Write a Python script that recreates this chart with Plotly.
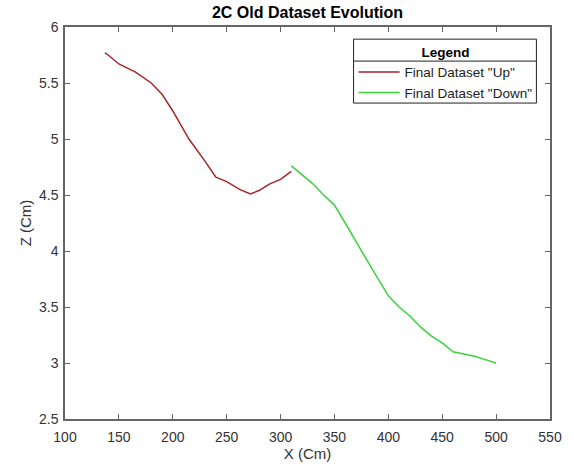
import plotly.graph_objects as go

# Data
up_x = [137, 140, 150, 165, 180, 190, 200, 215, 230, 240, 250, 262, 272, 280, 290, 300, 310]
up_z = [5.77, 5.75, 5.67, 5.60, 5.50, 5.40, 5.25, 5.00, 4.80, 4.66, 4.62, 4.55, 4.51, 4.54, 4.60, 4.64, 4.71]

down_x = [310, 320, 330, 340, 350, 360, 370, 380, 390, 400, 410, 420, 430, 440, 450, 460, 470, 480, 490, 500]
down_z = [4.76, 4.68, 4.60, 4.50, 4.41, 4.25, 4.08, 3.92, 3.76, 3.60, 3.50, 3.42, 3.32, 3.24, 3.18, 3.10, 3.08, 3.06, 3.03, 3.00]

x_ticks = [100, 150, 200, 250, 300, 350, 400, 450, 500, 550]
z_ticks = [2.5, 3, 3.5, 4, 4.5, 5, 5.5, 6]

FONT = "Liberation Sans, Arial, sans-serif"
TXT = "#333333"

fig = go.Figure()
fig.add_trace(go.Scatter(x=up_x, y=up_z, mode="lines", name='Final Dataset "Up"',
                         line=dict(color="#a8232a", width=1.5)))
fig.add_trace(go.Scatter(x=down_x, y=down_z, mode="lines", name='Final Dataset "Down"',
                         line=dict(color="#3ad43a", width=1.5)))

axis_common = dict(showgrid=False, zeroline=False, showline=True, linecolor="#666666",
                   linewidth=1.5, mirror="ticks", ticks="inside", ticklen=5,
                   tickcolor="#666666", tickfont=dict(family=FONT, size=14, color=TXT))

fig.update_xaxes(range=[100, 550], tickvals=x_ticks, ticktext=[str(v) for v in x_ticks],
                 ticklabelstandoff=4,
                 title=dict(text="X (Cm)", font=dict(family=FONT, size=15, color=TXT), standoff=2),
                 **axis_common)
fig.update_yaxes(range=[2.5, 6], tickvals=z_ticks, ticktext=[f"{v:g}" for v in z_ticks],
                 ticklabelstandoff=2,
                 title=dict(text="Z (Cm)", font=dict(family=FONT, size=15, color=TXT), standoff=4),
                 **axis_common)

# legend box geometry (paper coordinates)
LX0, LX1, LY0, LY1, LSEP = 0.595, 0.972, 0.806, 0.969, 0.913

fig.update_layout(
    width=574, height=469,
    margin=dict(l=65, r=13, t=27, b=50),
    paper_bgcolor="white", plot_bgcolor="white",
    title=dict(text="<b>2C Old Dataset Evolution</b>", xref="paper", x=0.5, xanchor="center",
               y=0.985, yanchor="top", font=dict(family=FONT, size=16, color="black")),
    legend=dict(x=LX0, xanchor="left", y=LY1, yanchor="top",
                borderwidth=0, bgcolor="rgba(0,0,0,0)",
                font=dict(family=FONT, size=13.5, color="#222222"),
                title=dict(text="<b>Legend</b>", side="top center",
                           font=dict(family=FONT, size=13.5, color="black")),
                tracegroupgap=0, itemwidth=41),
    showlegend=True,
)

fig.add_shape(type="rect", xref="paper", yref="paper", x0=LX0, x1=LX1, y0=LY0, y1=LY1,
              fillcolor="white", line=dict(color="#222222", width=1), layer="above")
fig.add_shape(type="line", xref="paper", yref="paper", x0=LX0, x1=LX1, y0=LSEP, y1=LSEP,
              line=dict(color="#222222", width=1), layer="above")

fig.write_html("out.html")
